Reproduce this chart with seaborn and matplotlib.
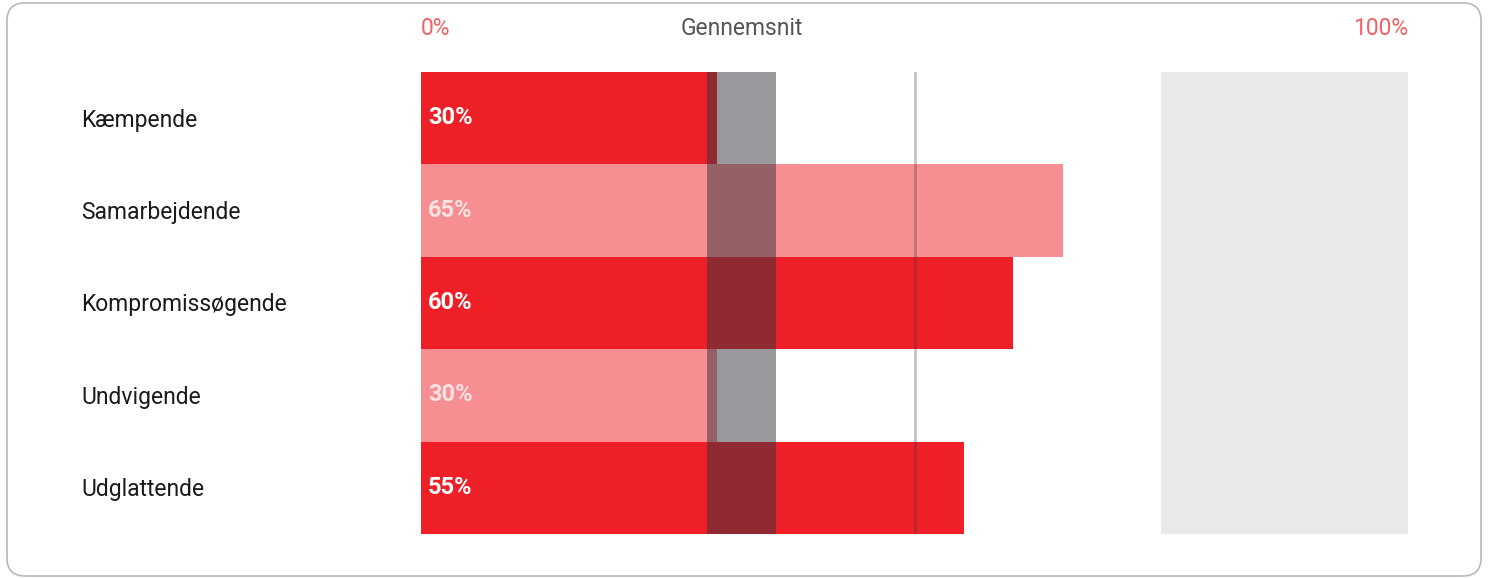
import matplotlib
matplotlib.use("Agg")
import matplotlib.pyplot as plt
import matplotlib.transforms as mtransforms
from matplotlib.patches import FancyBboxPatch
import seaborn as sns
import pandas as pd

categories = ["Kæmpende", "Samarbejdende", "Kompromissøgende", "Undvigende", "Udglattende"]
values = [30, 65, 60, 30, 55]
value_labels = ["30%", "65%", "60%", "30%", "55%"]
highlight = [True, False, True, False, True]
avg_low, avg_high = 29, 36
ref_line = 50
zone_low, zone_high = 75, 100

sns.set_theme(style="white")
plt.rcParams["font.family"] = ["Roboto", "DejaVu Sans"]

RED = "#ee1f27"
fig = plt.figure(figsize=(14.89, 5.79), dpi=100)
ax = fig.add_axes([421 / 1489, 1 - 534 / 579, 987 / 1489, 462 / 579])

df = pd.DataFrame({"cat": categories, "val": values})
sns.barplot(data=df, x="val", y="cat", color=RED, width=1.0, ax=ax,
            saturation=1, orient="h", zorder=2)
for p, h in zip(ax.patches, highlight):
    p.set_alpha(1.0 if h else 0.5)
    p.set_edgecolor("none")

ax.axvspan(zone_low, zone_high, color="#e9e9e9", zorder=1, lw=0)
ax.axvspan(avg_low, avg_high, color="#33353d", alpha=0.5, zorder=3, lw=0)
ax.axvline(ref_line, color="#3a3a3a", alpha=0.3, lw=2, zorder=4)

ax.set_xlim(0, 100)
ax.set_ylim(len(categories) - 0.5, -0.5)
ax.set_xlabel("")
ax.set_ylabel("")
ax.set_xticks([])
ax.set_yticks([])
for s in ax.spines.values():
    s.set_visible(False)
ax.set_facecolor("none")

for i, (lab, h) in enumerate(zip(value_labels, highlight)):
    ax.text(0.7, i - 0.005, lab, color="white", alpha=1.0 if h else 0.75,
            fontsize=17, fontweight="bold", va="center", ha="left", zorder=5)

trans = mtransforms.blended_transform_factory(fig.transFigure, ax.transData)
for i, c in enumerate(categories):
    ax.text(81 / 1489, i + 0.02, c, transform=trans, fontsize=16.5,
            color="#1a1a1a", va="center", ha="left")

ytop = 1 - 28.5 / 579
fig.text(421 / 1489, ytop, "0%", color=RED, alpha=0.7, fontsize=16.5, ha="left", va="center")
fig.text((421 + 987 * (avg_low + avg_high) / 200) / 1489,
         ytop, "Gennemsnit", color="#555555", fontsize=16.5, ha="center", va="center")
fig.text(1408 / 1489, ytop, "100%", color=RED, alpha=0.7, fontsize=16.5, ha="right", va="center")

frame = FancyBboxPatch((7 / 1489, 3 / 579), 1474 / 1489, 573 / 579,
                       boxstyle="round,pad=0,rounding_size=0.012",
                       transform=fig.transFigure, facecolor="none",
                       edgecolor="#b8b8bc", lw=1.2, zorder=0,
                       mutation_aspect=1489 / 579)
fig.patches.append(frame)

fig.savefig("out.png", dpi=100)
